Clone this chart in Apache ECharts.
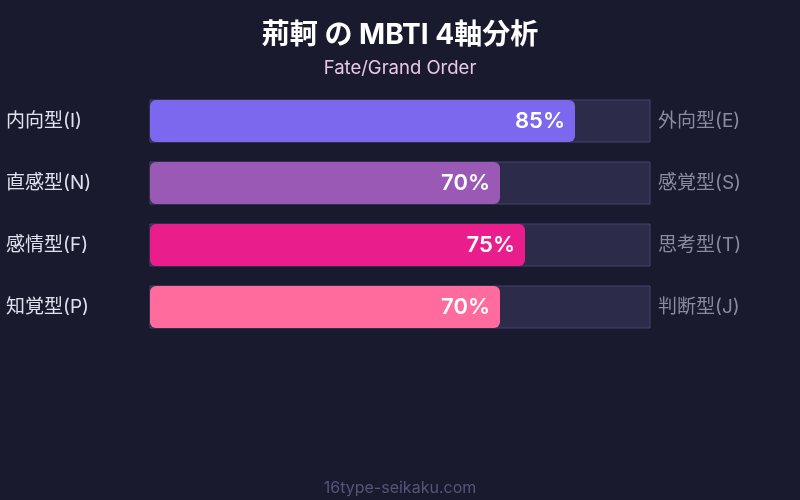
<!DOCTYPE html>
<html>
<head>
<meta charset="utf-8">
<script src="https://cdn.jsdelivr.net/npm/echarts@6/dist/echarts.min.js"></script>
<style>
  html, body { margin: 0; padding: 0; background: #1a1a2e; }
  #chart { width: 800px; height: 500px; }
</style>
</head>
<body>
<div id="chart"></div>
<script>
// データ
const leftLabels = ['内向型(I)', '直感型(N)', '感情型(F)', '知覚型(P)'];
const rightLabels = ['外向型(E)', '感覚型(S)', '思考型(T)', '判断型(J)'];
const scores = [85, 70, 75, 70];
const barColors = ['#7b68ee', '#9b59b6', '#e91e8c', '#ff6b9d'];

const fontFamily = 'Inter, "Noto Sans CJK JP", sans-serif';

const myChart = echarts.init(document.getElementById('chart'));

const option = {
    backgroundColor: '#1a1a2e',
    title: [
        {
            text: '荊軻 の MBTI 4軸分析',
            left: 'center',
            top: 17,
            textStyle: { color: '#ffffff', fontSize: 28, fontWeight: 'bold', fontFamily: fontFamily }
        },
        {
            text: 'Fate/Grand Order',
            left: 'center',
            top: 54,
            textStyle: { color: '#e8c8e8', fontSize: 18.5, fontWeight: 'normal', fontFamily: fontFamily }
        },
        {
            text: '16type-seikaku.com',
            left: 'center',
            top: 475,
            textStyle: { color: '#55557a', fontSize: 16, fontWeight: 'normal', fontFamily: fontFamily }
        }
    ],
    grid: { left: 150, right: 150, top: 90, height: 248 },
    xAxis: {
        type: 'value',
        min: 0,
        max: 100,
        show: false
    },
    yAxis: [
        {
            type: 'category',
            inverse: true,
            data: leftLabels,
            axisLine: { show: false },
            axisTick: { show: false },
            axisLabel: {
                color: '#e0e0f0',
                fontSize: 19,
                fontFamily: fontFamily,
                align: 'left',
                margin: 144
            }
        },
        {
            type: 'category',
            inverse: true,
            position: 'right',
            data: rightLabels,
            axisLine: { show: false },
            axisTick: { show: false },
            axisLabel: {
                color: '#8a8aa0',
                fontSize: 19,
                fontFamily: fontFamily,
                margin: 8
            }
        }
    ],
    series: [
        {
            type: 'bar',
            yAxisIndex: 0,
            barWidth: 42,
            showBackground: true,
            backgroundStyle: {
                color: '#2d2b4a',
                borderColor: '#45436a',
                borderWidth: 1
            },
            data: scores.map((v, i) => ({
                value: v,
                itemStyle: { color: barColors[i], borderRadius: 6 }
            })),
            label: {
                show: true,
                position: 'insideRight',
                distance: 10,
                formatter: '{c}%',
                color: '#ffffff',
                fontSize: 22,
                fontWeight: 600,
                fontFamily: fontFamily
            }
        }
    ]
};

myChart.setOption(option);
</script>
</body>
</html>
